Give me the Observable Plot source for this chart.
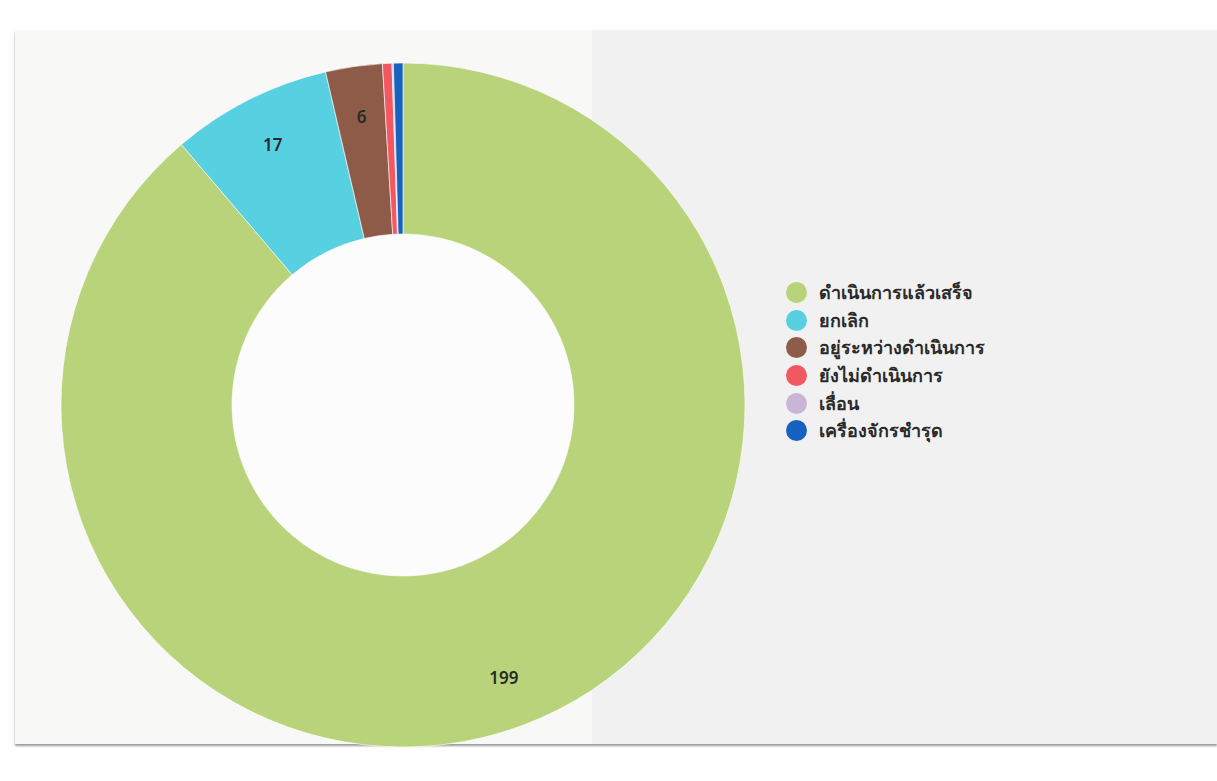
<!DOCTYPE html>
<html><head><meta charset="utf-8">
<script src="https://cdn.jsdelivr.net/npm/d3@7"></script>
<script src="https://cdn.jsdelivr.net/npm/@observablehq/plot@0.6"></script>
<style>
body{margin:0;background:#fff;width:1217px;height:781px;overflow:hidden;position:relative;font-family:"Noto Sans","DejaVu Sans",sans-serif}
#panel{position:absolute;left:15px;top:30px;width:1202px;height:714px;background:linear-gradient(90deg,#f8f8f7 0,#f8f8f7 48%,#f1f1f1 48%,#f1f1f1 100%);box-shadow:0 2px 2px #9a9a9a}
#chart{position:absolute;left:0;top:0}
#legend{position:absolute;left:786px;top:279px;font-size:18px;color:#2a2a2a;font-weight:bold}
.row{height:27.6px;display:flex;align-items:center}
.sw{width:21px;height:21px;border-radius:50%;margin-right:12px;flex:none}
</style></head>
<body>
<div id="panel"></div>
<div id="chart"></div>
<div id="legend"></div>
<script>
const labels = ["ดำเนินการแล้วเสร็จ","ยกเลิก","อยู่ระหว่างดำเนินการ","ยังไม่ดำเนินการ","เลื่อน","เครื่องจักรชำรุด"];
const values = [199, 17, 6, 1, 0.15, 1];
const colors = ["#b9d37b","#57d0e2","#8d5b48","#f25862","#c9b6d6","#1662be"];

const data = labels.map((label, i) => ({label, value: values[i]}));
const colorScale = Plot.scale({color: {domain: labels, range: colors}});
const arcs = d3.pie().value(d => d.value).sort(null)(data);

const innerRatio = 0.5;
const labelR = 0.85;

function donut(index, scales) {
  const {x, y} = scales;
  const cx = x(0), cy = y(0), R = x(1) - x(0), r = R * innerRatio;
  const arc = d3.arc().innerRadius(r).outerRadius(R);
  const g = d3.create("svg:g").attr("transform", `translate(${cx},${cy})`);
  g.append("circle").attr("r", r).attr("fill", "#fcfcfc");
  g.selectAll("path").data(arcs).join("path")
    .attr("d", arc)
    .attr("fill", d => colorScale.apply(d.data.label))
    .attr("stroke", "#fff")
    .attr("stroke-width", 0.6);
  return g.node();
}

const labelled = arcs.filter(d => d.data.value >= 6);
const mid = d => (d.startAngle + d.endAngle) / 2;

const chart = Plot.plot({
  width: 1217,
  height: 781,
  margin: 0,
  style: {background: "transparent"},
  x: {domain: [-1, 1], range: [61, 745], axis: null},
  y: {domain: [-1, 1], range: [747, 63], axis: null},
  marks: [
    donut,
    Plot.text(labelled, {
      x: d => labelR * Math.sin(mid(d)),
      y: d => labelR * Math.cos(mid(d)),
      text: d => String(d.data.value),
      fontSize: 17,
      fontWeight: 600,
      fill: "#2a2a2a"
    })
  ]
});
document.getElementById("chart").appendChild(chart);

const legend = document.getElementById("legend");
labels.forEach((l, i) => {
  const row = document.createElement("div");
  row.className = "row";
  const sw = document.createElement("span");
  sw.className = "sw";
  sw.style.background = colorScale.apply(l);
  const t = document.createElement("span");
  t.textContent = l;
  row.appendChild(sw); row.appendChild(t);
  legend.appendChild(row);
});
</script>
</body></html>
